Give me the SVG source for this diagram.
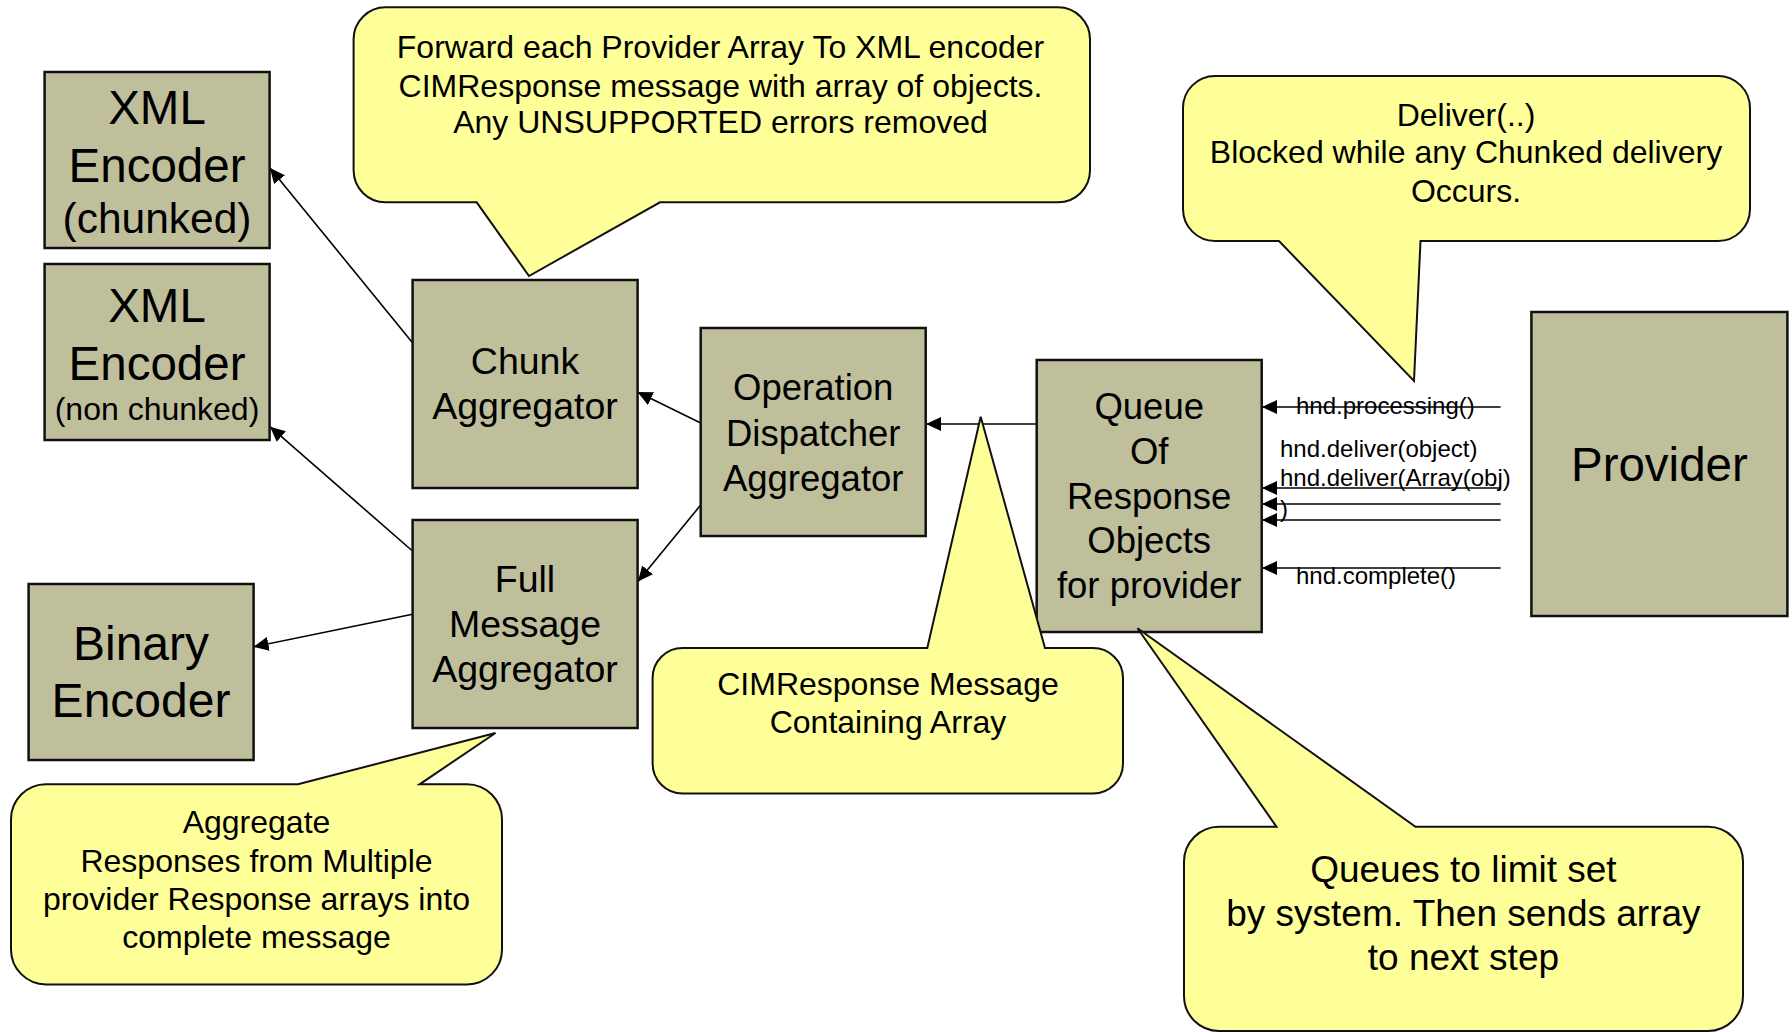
<svg xmlns="http://www.w3.org/2000/svg" width="1792" height="1032" viewBox="0 0 1792 1032">
<style>
.node{fill:#BFBF9C;stroke:#111;stroke-width:2.5}
.call{fill:#FFFF99;stroke:#111;stroke-width:2}
.t{font-family:"Liberation Sans",Arial,sans-serif;fill:#000;text-anchor:middle}
.s{font-family:"Liberation Sans",Arial,sans-serif;fill:#000;font-size:24px}
.c{stroke:#000;stroke-width:1.6;fill:none;marker-end:url(#ah)}
</style>
<defs>
<marker id="ah" markerUnits="userSpaceOnUse" markerWidth="16" markerHeight="14" refX="15" refY="7" orient="auto">
<path d="M0,0 L15,7 L0,14 Z" fill="#000"/>
</marker>
</defs>
<rect width="1792" height="1032" fill="#fff"/>
<g id="connectors">
<line class="c" x1="412.5" y1="342.7" x2="270" y2="168"/>
<line class="c" x1="412.5" y1="551" x2="270" y2="426.7"/>
<line class="c" x1="412.5" y1="614.3" x2="253.6" y2="646.8"/>
<line class="c" x1="700.7" y1="423" x2="637.5" y2="392"/>
<line class="c" x1="700.7" y1="505" x2="638" y2="581.5"/>
<line class="c" x1="1036.7" y1="424" x2="926" y2="424"/>
<line class="c" x1="1500.6" y1="407" x2="1262" y2="407"/>
<line class="c" x1="1500.6" y1="488" x2="1262" y2="488"/>
<line class="c" x1="1500.6" y1="504" x2="1262" y2="504"/>
<line class="c" x1="1500.6" y1="520" x2="1262" y2="520"/>
<line class="c" x1="1500.6" y1="568" x2="1262" y2="568"/>
<text class="s" x="1296" y="414">hnd.processing()</text>
<text class="s" x="1280" y="456.7">hnd.deliver(object)</text>
<text class="s" x="1280" y="485.7">hnd.deliver(Array(obj)</text>
<text class="s" x="1280" y="516.7">)</text>
<text class="s" x="1296" y="584">hnd.complete()</text>
</g>
<g id="xml-chunked">
<rect class="node" x="44.6" y="72" width="225" height="176"/>
<text class="t" x="157" y="123.6" font-size="47.5">XML</text>
<text class="t" x="157" y="181.6" font-size="47.5">Encoder</text>
<text class="t" x="157" y="233" font-size="42.5">(chunked)</text>
</g>
<g id="xml-nonchunked">
<rect class="node" x="44.6" y="264" width="225" height="176"/>
<text class="t" x="157" y="321.6" font-size="47.5">XML</text>
<text class="t" x="157" y="379.8" font-size="47.5">Encoder</text>
<text class="t" x="157" y="420.4" font-size="32">(non chunked)</text>
</g>
<g id="binary-encoder">
<rect class="node" x="28.6" y="584" width="225" height="176"/>
<text class="t" x="141" y="660" font-size="48">Binary</text>
<text class="t" x="141" y="716.7" font-size="48">Encoder</text>
</g>
<g id="chunk-aggregator">
<rect class="node" x="412.6" y="280" width="225" height="208"/>
<text class="t" x="525" y="374" font-size="37.5">Chunk</text>
<text class="t" x="525" y="419" font-size="37.5">Aggregator</text>
</g>
<g id="full-message-aggregator">
<rect class="node" x="412.6" y="520" width="225" height="208"/>
<text class="t" x="525" y="592.3" font-size="37.5">Full</text>
<text class="t" x="525" y="637.3" font-size="37.5">Message</text>
<text class="t" x="525" y="682.2" font-size="37.5">Aggregator</text>
</g>
<g id="operation-dispatcher">
<rect class="node" x="700.7" y="328" width="225" height="208"/>
<text class="t" x="813.2" y="400" font-size="36.5">Operation</text>
<text class="t" x="813.2" y="445.7" font-size="36.5">Dispatcher</text>
<text class="t" x="813.2" y="490.7" font-size="36.5">Aggregator</text>
</g>
<g id="queue">
<rect class="node" x="1036.7" y="360" width="225" height="272"/>
<text class="t" x="1149.2" y="419" font-size="36.5">Queue</text>
<text class="t" x="1149.2" y="464" font-size="36.5">Of</text>
<text class="t" x="1149.2" y="509" font-size="36.5">Response</text>
<text class="t" x="1149.2" y="553" font-size="36.5">Objects</text>
<text class="t" x="1149.2" y="598" font-size="36.5">for provider</text>
</g>
<g id="provider">
<rect class="node" x="1531.4" y="312" width="256" height="304"/>
<text class="t" x="1659.4" y="481" font-size="47.5">Provider</text>
</g>
<g id="callout-forward">
<path class="call" d="M385.6,7.3 H1058 A32,32 0 0 1 1090,39.3 V170.3 A32,32 0 0 1 1058,202.3 H660 L529,276 L476.7,202.3 H385.6 A32,32 0 0 1 353.6,170.3 V39.3 A32,32 0 0 1 385.6,7.3 Z"/>
<text class="t" x="720.5" y="58.3" font-size="32">Forward each Provider Array To XML encoder</text>
<text class="t" x="720.5" y="96.7" font-size="32">CIMResponse message with array of objects.</text>
<text class="t" x="720.5" y="133.3" font-size="32">Any UNSUPPORTED errors removed</text>
</g>
<g id="callout-deliver">
<path class="call" d="M1215,76 H1718 A32,32 0 0 1 1750,108 V209 A32,32 0 0 1 1718,241 H1420.5 L1414,381 L1279,241 H1215 A32,32 0 0 1 1183,209 V108 A32,32 0 0 1 1215,76 Z"/>
<text class="t" x="1466" y="126" font-size="32">Deliver(..)</text>
<text class="t" x="1466" y="163" font-size="32">Blocked while any Chunked delivery</text>
<text class="t" x="1466" y="202" font-size="32">Occurs.</text>
</g>
<g id="callout-cimresponse">
<path class="call" d="M682.6,648 H927.3 L980.7,416.7 L1045,648 H1093 A30,30 0 0 1 1123,678 V763.5 A30,30 0 0 1 1093,793.5 H682.6 A30,30 0 0 1 652.6,763.5 V678 A30,30 0 0 1 682.6,648 Z"/>
<text class="t" x="888" y="695" font-size="32">CIMResponse Message</text>
<text class="t" x="888" y="733.3" font-size="32">Containing Array</text>
</g>
<g id="callout-aggregate">
<path class="call" d="M46,784.3 H298 L495.5,733 L419.6,784.3 H467 A35,35 0 0 1 502,819.3 V949.4 A35,35 0 0 1 467,984.4 H46 A35,35 0 0 1 11,949.4 V819.3 A35,35 0 0 1 46,784.3 Z"/>
<text class="t" x="256.5" y="833.3" font-size="32">Aggregate</text>
<text class="t" x="256.5" y="872.2" font-size="32">Responses from Multiple</text>
<text class="t" x="256.5" y="910" font-size="32">provider Response arrays into</text>
<text class="t" x="256.5" y="948.3" font-size="32">complete message</text>
</g>
<g id="callout-queues">
<path class="call" d="M1219,826.7 H1276.5 L1137.5,628.3 L1415.5,826.7 H1708 A35,35 0 0 1 1743,861.7 V996 A35,35 0 0 1 1708,1031 H1219 A35,35 0 0 1 1184,996 V861.7 A35,35 0 0 1 1219,826.7 Z"/>
<text class="t" x="1463.4" y="881.7" font-size="37">Queues to limit set</text>
<text class="t" x="1463.4" y="925.5" font-size="37">by system. Then sends array</text>
<text class="t" x="1463.4" y="970" font-size="37">to next step</text>
</g>
</svg>
